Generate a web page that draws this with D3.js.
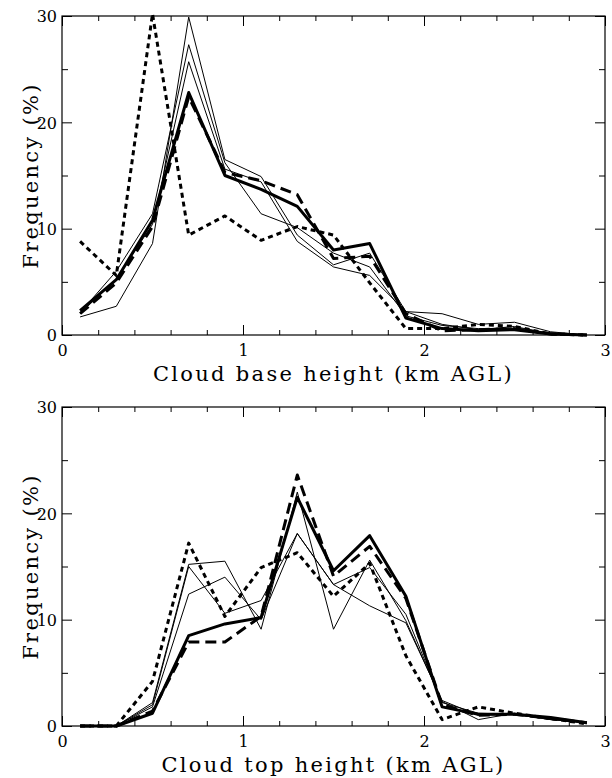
<!DOCTYPE html>
<meta charset="utf-8">
<script src="https://d3js.org/d3.v7.min.js"></script>
<style>
  body { margin: 0; background: #fff; }
  text { font-family: "DejaVu Serif", serif; fill: #000; }
</style>
<body>
<div id="chart"></div>
<script>
// heights (km AGL), bin centres
const heights = [0.1, 0.3, 0.5, 0.7, 0.9, 1.1, 1.3, 1.5, 1.7, 1.9, 2.1, 2.3, 2.5, 2.7, 2.9];

// cloud base frequency (%)
const baseThick  = [2.3, 5.2, 10.8, 22.8, 15.0, 13.7, 12.1, 8.0, 8.6, 1.6, 0.6, 0.4, 0.5, 0.1, 0.0];
const baseDashed = [2.0, 4.9, 10.2, 22.4, 15.3, 14.5, 13.2, 7.2, 7.4, 2.0, 0.4, 0.5, 0.6, 0.1, 0.0];
const baseDotted = [8.8, 5.6, 30.2, 9.4, 11.2, 8.9, 10.2, 9.4, 4.9, 0.6, 0.6, 1.0, 0.8, 0.1, 0.0];
const baseThinA  = [1.7, 2.7, 8.6, 29.9, 16.5, 14.9, 9.4, 6.6, 7.7, 2.2, 2.0, 1.0, 1.2, 0.3, 0.0];
const baseThinB  = [2.1, 6.0, 11.4, 27.3, 16.2, 11.4, 10.1, 7.7, 6.4, 1.8, 0.9, 0.6, 0.6, 0.2, 0.0];
const baseThinC  = [2.0, 5.3, 10.4, 25.7, 15.6, 14.4, 8.8, 6.4, 5.6, 2.2, 1.0, 0.5, 0.8, 0.1, 0.0];

// cloud top frequency (%)
const topThick  = [0, 0, 1.2, 8.5, 9.6, 10.2, 21.5, 14.6, 17.9, 12.2, 1.8, 1.1, 1.1, 0.8, 0.3];
const topDashed = [0, 0, 1.4, 7.9, 7.9, 10.3, 23.6, 14.1, 16.9, 12.0, 2.0, 1.0, 1.1, 0.7, 0.3];
const topDotted = [0, 0, 4.2, 17.2, 10.3, 14.9, 16.3, 12.2, 15.3, 6.6, 0.6, 1.8, 1.2, 0.7, 0.2];
const topThinA  = [0, 0, 2.2, 15.2, 15.5, 9.1, 22.0, 9.1, 15.6, 9.9, 2.3, 0.6, 1.2, 0.7, 0.3];
const topThinB  = [0, 0, 1.8, 12.4, 14.0, 10.0, 18.1, 13.3, 14.9, 10.5, 2.2, 1.2, 1.1, 0.6, 0.3];
const topThinC  = [0, 0, 2.0, 15.0, 10.6, 11.8, 18.1, 13.3, 11.3, 9.7, 2.4, 1.0, 1.1, 0.6, 0.3];

const xTickLabels = [0, 1, 2, 3];
const yTickLabels = [0, 10, 20, 30];

const W = 612, H = 778;
const left = 62, right = 605;

const svg = d3.select("#chart").append("svg")
    .attr("width", W).attr("height", H);

const x = d3.scaleLinear().domain([0, 3]).range([left, right]);

function panel(top, bottom, series, title) {
    const y = d3.scaleLinear().domain([0, 30]).range([bottom, top]);
    const g = svg.append("g");

    const minorX = d3.range(0, 3.001, 0.2).map(v => +v.toFixed(1));
    const minorY = d3.range(0, 30.001, 5);

    // bottom axis
    const ax = g.append("g").attr("transform", `translate(0,${bottom})`)
        .call(d3.axisBottom(x).tickValues(minorX).tickSizeInner(-5).tickSizeOuter(0)
            .tickFormat(d => xTickLabels.includes(d) ? d : ""));
    ax.selectAll(".tick line").filter(d => Number.isInteger(d)).attr("y2", -10);
    ax.selectAll(".tick text").attr("dy", 0).attr("y", 21).style("font-size", "16px");

    // top axis
    const at = g.append("g").attr("transform", `translate(0,${top})`)
        .call(d3.axisTop(x).tickValues(minorX).tickSizeInner(-5).tickSizeOuter(0).tickFormat(""));
    at.selectAll(".tick line").filter(d => Number.isInteger(d)).attr("y2", 10);

    // left axis
    const al = g.append("g").attr("transform", `translate(${left},0)`)
        .call(d3.axisLeft(y).tickValues(minorY).tickSizeInner(-6).tickSizeOuter(0)
            .tickFormat(d => yTickLabels.includes(d) ? d : ""));
    al.selectAll(".tick line").filter(d => d % 10 === 0).attr("x2", 10);
    al.selectAll(".tick text").attr("x", -5).attr("dy", "0.36em").style("font-size", "16px");

    // right axis
    const ar = g.append("g").attr("transform", `translate(${right},0)`)
        .call(d3.axisRight(y).tickValues(minorY).tickSizeInner(-6).tickSizeOuter(0).tickFormat(""));
    ar.selectAll(".tick line").filter(d => d % 10 === 0).attr("x2", -10);

    g.selectAll(".domain").remove();
    g.selectAll(".tick line").attr("stroke", "#000").attr("stroke-width", 1);
    g.selectAll(".tick text").attr("fill", "#000").style("font-family", "DejaVu Serif");

    g.append("rect")
        .attr("x", left).attr("y", top)
        .attr("width", right - left).attr("height", bottom - top)
        .attr("fill", "none").attr("stroke", "#000").attr("stroke-width", 1.2);

    const line = d3.line().x((d, i) => x(heights[i])).y(d => y(d));

    g.selectAll("path.series")
        .data(series)
        .join("path")
        .attr("class", "series")
        .attr("d", s => line(s.values))
        .attr("fill", "none")
        .attr("stroke", "#000")
        .attr("stroke-width", s => s.width)
        .attr("stroke-dasharray", s => s.dash)
        .attr("stroke-linejoin", "round");

    g.append("text")
        .attr("x", (left + right) / 2).attr("y", bottom + 46)
        .attr("text-anchor", "middle")
        .style("font-size", "21px").style("letter-spacing", "2.3px")
        .text(title);

    g.append("text")
        .attr("transform", `translate(38,${(top + bottom) / 2}) rotate(-90)`)
        .attr("text-anchor", "middle")
        .style("font-size", "21px").style("letter-spacing", "2.3px")
        .text("Frequency (%)");
}

panel(16, 335, [
    {values: baseThinA, width: 1, dash: null},
    {values: baseThinB, width: 1, dash: null},
    {values: baseThinC, width: 1, dash: null},
    {values: baseDotted, width: 3, dash: "5,4"},
    {values: baseDashed, width: 3, dash: "11,6"},
    {values: baseThick, width: 3, dash: null}
], "Cloud base height (km AGL)");

panel(407, 726, [
    {values: topThinA, width: 1, dash: null},
    {values: topThinB, width: 1, dash: null},
    {values: topThinC, width: 1, dash: null},
    {values: topDotted, width: 3, dash: "5,4"},
    {values: topDashed, width: 3, dash: "11,6"},
    {values: topThick, width: 3, dash: null}
], "Cloud top height (km AGL)");
</script>
</body>
